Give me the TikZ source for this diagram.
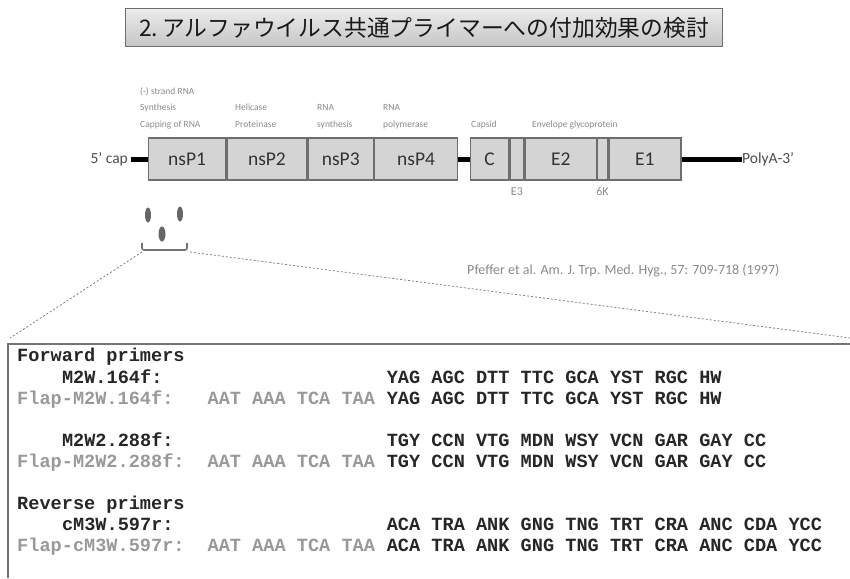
\documentclass[tikz,border=0pt]{standalone}
\usepackage{fontspec}
\setmainfont{Carlito}
\newfontfamily\cjkfont{Noto Sans CJK JP}
\newfontfamily\seqfont{Liberation Mono}
\usetikzlibrary{shapes.geometric}
\definecolor{boxfill}{HTML}{D4D4D4}
\definecolor{boxline}{HTML}{6E6E6E}
\definecolor{lbl}{HTML}{8A8A8A}
\definecolor{flap}{HTML}{999999}
\tikzset{
  gene/.style={draw=boxline, line width=1.3pt, fill=boxfill, minimum height=42pt, inner sep=0pt, font=\fontsize{19.5}{19}\selectfont, text=black!80},
  tiny/.style={font=\fontsize{9.5}{10}\selectfont, text=lbl, inner sep=0pt, anchor=base west},
  rna/.style={line width=5pt, black},
  seq/.style={font=\seqfont\bfseries\fontsize{18.6}{19}\selectfont, inner sep=0pt, anchor=base west, text=black!85},
  flapseq/.style={seq, text=flap},
  blob/.style={ellipse, fill=black!60, minimum width=6pt, minimum height=15pt, inner sep=0pt},
  zoomline/.style={black!50, dash pattern=on 2pt off 2pt, line width=0.8pt}
}
\begin{document}
\begin{tikzpicture}[x=1pt,y=-1pt]
\useasboundingbox (0,0) rectangle (850,578);
% title
\node[draw=boxline, line width=1.3pt, top color=gray!15, bottom color=gray!45, minimum width=597pt, minimum height=38pt, inner sep=0pt, anchor=north west, font=\cjkfont\fontsize{22.8}{22}\selectfont, text=black!90] (title) at (125,8) {2.\,アルファウイルス共通プライマーへの付加効果の検討};
% genome
\coordinate (capend) at (131,159);
\node[anchor=east, font=\fontsize{15.5}{15}\selectfont, text=black!70, inner sep=0pt] (cap) at (128,159) {5' cap};
\node[gene, minimum width=77pt, anchor=west] (nsp1) at (148,159) {nsP1};
\node[gene, minimum width=80pt, anchor=west] (nsp2) at (nsp1.east) {nsP2};
\node[gene, minimum width=65pt, anchor=west] (nsp3) at (nsp2.east) {nsP3};
\node[gene, minimum width=83pt, anchor=west] (nsp4) at (nsp3.east) {nsP4};
\node[gene, minimum width=38pt, anchor=west] (c) at (470,159) {C};
\node[gene, minimum width=14pt, anchor=west] (e3) at (c.east) {};
\node[gene, minimum width=71pt, anchor=west] (e2) at (e3.east) {E2};
\node[gene, minimum width=10pt, anchor=west] (k6) at (e2.east) {};
\node[gene, minimum width=72pt, anchor=west] (e1) at (k6.east) {E1};
\node[anchor=west, font=\fontsize{15.5}{15}\selectfont, text=black!70, inner sep=0pt] (polya) at (742,159) {PolyA-3'};
\draw[rna] (capend) -- (nsp1.west);
\draw[rna] (nsp4.east) -- (c.west);
\draw[rna] (e1.east) -- (polya.west);
% function labels
\node[tiny] (l1a) at (140,94) {(-) strand RNA};
\node[tiny] (l1b) at (140,110) {Synthesis};
\node[tiny] (l1c) at (140,127) {Capping of RNA};
\node[tiny] (l2a) at (235,110) {Helicase};
\node[tiny] (l2b) at (235,127) {Proteinase};
\node[tiny] (l3a) at (317,110) {RNA};
\node[tiny] (l3b) at (317,127) {synthesis};
\node[tiny] (l4a) at (383,110) {RNA};
\node[tiny] (l4b) at (383,127) {polymerase};
\node[tiny] (l5) at (471,127) {Capsid};
\node[tiny] (l6) at (532,127) {Envelope glycoprotein};
\node[tiny, anchor=base, font=\fontsize{12}{12}\selectfont] (le3) at (e3.south |- 0,195) {E3};
\node[tiny, anchor=base, font=\fontsize{12}{12}\selectfont] (l6k) at (k6.south |- 0,195) {6K};
% primer marks
\node[blob] (p1) at (148,215) {};
\node[blob] (p2) at (180,214) {};
\node[blob, minimum width=7pt] (p3) at (162,234) {};
\coordinate (bl) at (142,243);
\coordinate (br) at (187,243);
\draw[black!55, line width=1.6pt, rounded corners=2pt] (bl) -- (142,250) -- (187,250) -- (br);
% citation
\node[anchor=base west, font=\fontsize{14}{14}\selectfont, text=lbl, inner sep=0pt] (cite) at (467,274) {Pfeffer et al. Am. J. Trp. Med. Hyg., 57: 709-718 (1997)};
% zoom lines
\coordinate (zl) at (142,252);
\coordinate (zr) at (190,252);
\coordinate (boxtl) at (10,338);
\coordinate (boxtr) at (850,338);
\draw[zoomline] (zl) -- (boxtl);
\draw[zoomline] (zr) -- (boxtr);
% primer box
\coordinate (bxa) at (850,344);
\coordinate (bxb) at (8,344);
\coordinate (bxc) at (8,578);
\draw[black!55, line width=1.6pt] (bxa) -- (bxb) -- (bxc);
% sequences
\node[seq] (fw) at (17,361) {Forward primers};
\node[seq] (n1) at (61.8,383) {M2W.164f:};
\node[seq] (s1) at (386.6,383) {YAG AGC DTT TTC GCA YST RGC HW};
\node[flapseq] (n1f) at (17,404) {Flap-M2W.164f:};
\node[flapseq] (t1f) at (207.4,404) {AAT AAA TCA TAA};
\node[seq] (s1f) at (386.6,404) {YAG AGC DTT TTC GCA YST RGC HW};
\node[seq] (n2) at (61.8,446) {M2W2.288f:};
\node[seq] (s2) at (386.6,446) {TGY CCN VTG MDN WSY VCN GAR GAY CC};
\node[flapseq] (n2f) at (17,467) {Flap-M2W2.288f:};
\node[flapseq] (t2f) at (207.4,467) {AAT AAA TCA TAA};
\node[seq] (s2f) at (386.6,467) {TGY CCN VTG MDN WSY VCN GAR GAY CC};
\node[seq] (rv) at (17,509) {Reverse primers};
\node[seq] (n3) at (61.8,530) {cM3W.597r:};
\node[seq] (s3) at (386.6,530) {ACA TRA ANK GNG TNG TRT CRA ANC CDA YCC};
\node[flapseq] (n3f) at (17,551) {Flap-cM3W.597r:};
\node[flapseq] (t3f) at (207.4,551) {AAT AAA TCA TAA};
\node[seq] (s3f) at (386.6,551) {ACA TRA ANK GNG TNG TRT CRA ANC CDA YCC};
\end{tikzpicture}
\end{document}
